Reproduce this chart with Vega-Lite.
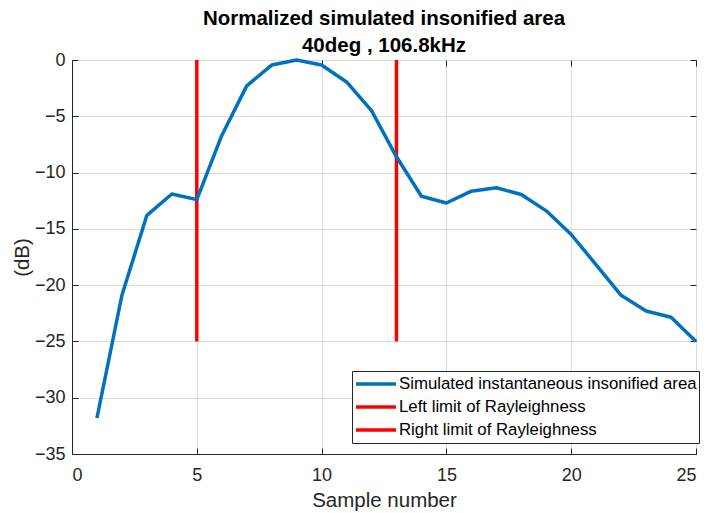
{
  "$schema": "https://vega.github.io/schema/vega-lite/v6.json",
  "autosize": {"type": "none"},
  "width": 624,
  "height": 394,
  "padding": {"left": 72, "top": 60, "right": 10, "bottom": 59},
  "background": "white",
  "config": {
    "font": "Liberation Sans",
    "view": {"stroke": "#262626", "strokeWidth": 1},
    "axis": {
      "labelFont": "Liberation Sans",
      "titleFont": "Liberation Sans",
      "labelFontSize": 18,
      "titleFontSize": 20.5,
      "labelColor": "#262626",
      "titleColor": "#262626",
      "titleFontWeight": "normal",
      "domainColor": "#262626",
      "tickColor": "#262626",
      "tickSize": -6,
      "gridColor": "#dcdcdc",
      "gridWidth": 1
    }
  },
  "title": {
    "text": ["Normalized simulated insonified area", "40deg , 106.8kHz"],
    "font": "Liberation Sans",
    "fontSize": 20.5,
    "fontWeight": "bold",
    "color": "#000000",
    "anchor": "middle",
    "lineHeight": 27,
    "offset": -5
  },
  "resolve": {"axis": {"x": "independent", "y": "independent"}},
  "datasets": {
    "curve": [
      {"sample": 1, "db": -31.8, "series": "Simulated instantaneous insonified area"},
      {"sample": 2, "db": -20.9, "series": "Simulated instantaneous insonified area"},
      {"sample": 3, "db": -13.8, "series": "Simulated instantaneous insonified area"},
      {"sample": 4, "db": -11.9, "series": "Simulated instantaneous insonified area"},
      {"sample": 5, "db": -12.4, "series": "Simulated instantaneous insonified area"},
      {"sample": 6, "db": -6.7, "series": "Simulated instantaneous insonified area"},
      {"sample": 7, "db": -2.3, "series": "Simulated instantaneous insonified area"},
      {"sample": 8, "db": -0.45, "series": "Simulated instantaneous insonified area"},
      {"sample": 9, "db": 0, "series": "Simulated instantaneous insonified area"},
      {"sample": 10, "db": -0.45, "series": "Simulated instantaneous insonified area"},
      {"sample": 11, "db": -1.95, "series": "Simulated instantaneous insonified area"},
      {"sample": 12, "db": -4.5, "series": "Simulated instantaneous insonified area"},
      {"sample": 13, "db": -8.6, "series": "Simulated instantaneous insonified area"},
      {"sample": 14, "db": -12.1, "series": "Simulated instantaneous insonified area"},
      {"sample": 15, "db": -12.7, "series": "Simulated instantaneous insonified area"},
      {"sample": 16, "db": -11.65, "series": "Simulated instantaneous insonified area"},
      {"sample": 17, "db": -11.35, "series": "Simulated instantaneous insonified area"},
      {"sample": 18, "db": -11.95, "series": "Simulated instantaneous insonified area"},
      {"sample": 19, "db": -13.4, "series": "Simulated instantaneous insonified area"},
      {"sample": 20, "db": -15.5, "series": "Simulated instantaneous insonified area"},
      {"sample": 21, "db": -18.2, "series": "Simulated instantaneous insonified area"},
      {"sample": 22, "db": -20.9, "series": "Simulated instantaneous insonified area"},
      {"sample": 23, "db": -22.3, "series": "Simulated instantaneous insonified area"},
      {"sample": 24, "db": -22.85, "series": "Simulated instantaneous insonified area"},
      {"sample": 25, "db": -25.0, "series": "Simulated instantaneous insonified area"}
    ],
    "limits": [
      {"sample": 5, "top": 0, "bottom": -25, "series": "Left limit of Rayleighness"},
      {"sample": 13, "top": 0, "bottom": -25, "series": "Right limit of Rayleighness"}
    ]
  },
  "layer": [
    {
      "data": {"name": "limits"},
      "mark": {"type": "rule", "strokeWidth": 3.5},
      "encoding": {
        "x": {"field": "sample", "type": "quantitative", "scale": {"domain": [0, 25], "nice": false},
              "axis": {"title": "Sample number", "values": [0, 5, 10, 15, 20, 25], "grid": true, "labelPadding": 18, "titlePadding": 6}},
        "y": {"field": "top", "type": "quantitative", "scale": {"domain": [-35, 0], "nice": false},
              "axis": {"title": "(dB)", "values": [0, -5, -10, -15, -20, -25, -30, -35], "grid": true, "labelPadding": 13, "titlePadding": 2}},
        "y2": {"field": "bottom"},
        "color": {"field": "series", "type": "nominal",
          "scale": {"domain": ["Simulated instantaneous insonified area", "Left limit of Rayleighness", "Right limit of Rayleighness"],
                    "range": ["#0072BD", "#FF0000", "#FF0000"]},
          "legend": {
            "title": null, "orient": "none", "legendX": 280, "legendY": 311,
            "symbolType": "stroke", "symbolSize": 1600, "symbolStrokeWidth": 3.5,
            "labelFontSize": 16.8, "labelFont": "Liberation Sans", "labelColor": "#000000",
            "labelLimit": 400, "labelOffset": 1, "clipHeight": 22,
            "fillColor": "white", "strokeColor": "#262626", "padding": 2, "rowPadding": 1
          }}
      }
    },
    {
      "data": {"name": "curve"},
      "mark": {"type": "line", "strokeWidth": 3.5, "strokeJoin": "round"},
      "encoding": {
        "x": {"field": "sample", "type": "quantitative", "axis": {"orient": "top", "labels": false, "title": null, "grid": false, "domain": false, "values": [0, 5, 10, 15, 20, 25]}},
        "y": {"field": "db", "type": "quantitative", "axis": {"orient": "right", "labels": false, "title": null, "grid": false, "domain": false, "values": [0, -5, -10, -15, -20, -25, -30, -35]}},
        "color": {"field": "series", "type": "nominal"}
      }
    }
  ]
}
